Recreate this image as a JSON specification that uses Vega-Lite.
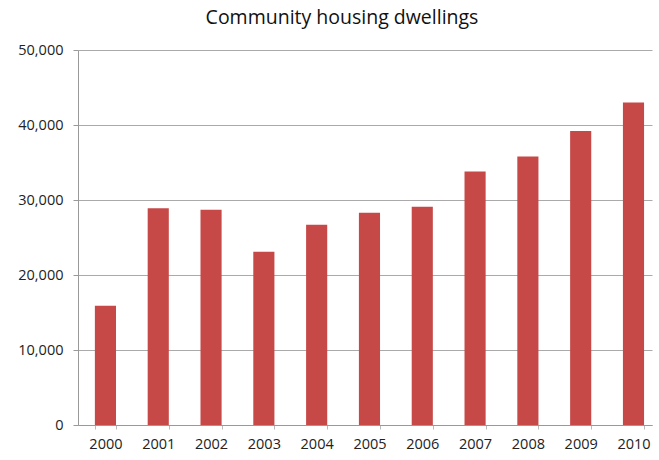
{
  "$schema": "https://vega.github.io/schema/vega-lite/v6.json",
  "autosize": "none",
  "width": 574,
  "height": 375,
  "padding": {"left": 78, "top": 50, "right": 7, "bottom": 35},
  "background": "white",
  "title": {
    "text": "Community housing dwellings",
    "font": "Open Sans",
    "fontSize": 19.5,
    "fontWeight": "normal",
    "color": "#111",
    "anchor": "middle",
    "dx": -23,
    "offset": 14
  },
  "data": {
    "values": [
      {"year": "2000", "dwellings": 15900},
      {"year": "2001", "dwellings": 28900},
      {"year": "2002", "dwellings": 28700},
      {"year": "2003", "dwellings": 23100},
      {"year": "2004", "dwellings": 26700},
      {"year": "2005", "dwellings": 28300},
      {"year": "2006", "dwellings": 29100},
      {"year": "2007", "dwellings": 33800},
      {"year": "2008", "dwellings": 35800},
      {"year": "2009", "dwellings": 39200},
      {"year": "2010", "dwellings": 43000}
    ]
  },
  "mark": {"type": "bar", "color": "#c64947"},
  "encoding": {
    "x": {
      "field": "year",
      "type": "ordinal",
      "title": null,
      "scale": {"paddingInner": 0.6, "paddingOuter": 0.235, "align": 0.68},
      "axis": {
        "labelAngle": 0,
        "labelFont": "Open Sans",
        "labelFontSize": 14.5,
        "labelColor": "#222",
        "labelPadding": 8,
        "domainColor": "#999",
        "tickColor": "#bbb",
        "tickSize": 4,
        "tickBand": "extent",
        "grid": false
      }
    },
    "y": {
      "field": "dwellings",
      "type": "quantitative",
      "title": null,
      "scale": {"domain": [0, 50000], "nice": false},
      "axis": {
        "values": [0, 10000, 20000, 30000, 40000, 50000],
        "format": ",d",
        "labelFont": "Open Sans",
        "labelFontSize": 14.5,
        "labelColor": "#222",
        "labelPadding": 10,
        "domainColor": "#999",
        "tickColor": "#999",
        "tickSize": 5,
        "gridColor": "#aaa",
        "gridOpacity": 1
      }
    }
  },
  "config": {"view": {"stroke": null}}
}
